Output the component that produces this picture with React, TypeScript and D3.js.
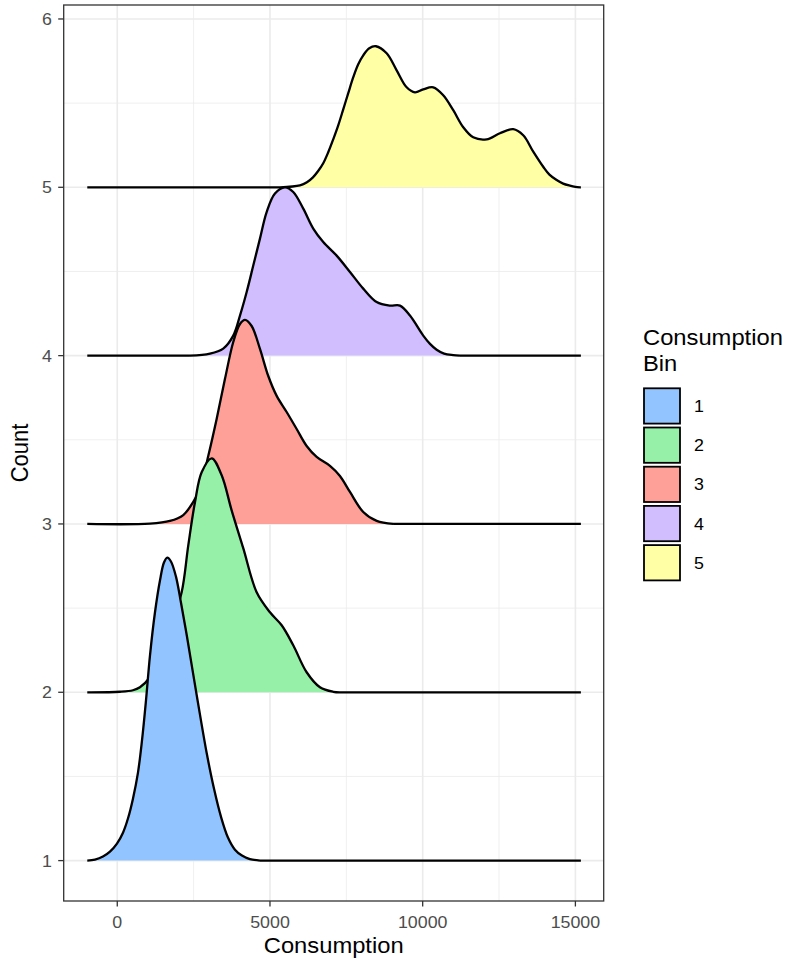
import React from "react";
import * as d3 from "d3";

// ---------- data ----------
const categories = ["1", "2", "3", "4", "5"];
const fillColors = ["#92C5FF", "#97F0A8", "#FFA098", "#D0BEFF", "#FFFFA6"];
const yTicks = [1, 2, 3, 4, 5, 6];
const yMinorTicks = [1.5, 2.5, 3.5, 4.5, 5.5];
const xTicks = [0, 5000, 10000, 15000];
const xMinorTicks = [2500, 7500, 12500];
const consumptionRange = [-982, 15180];
const xLimits = [-1754, 15927];
const yLimits = [0.76, 6.083];

// [consumption, scaled density]
const bin1: [number, number][] = [
  [-730, 0.006], [-468, 0.024], [-239, 0.053], [-10, 0.101], [187, 0.166], [350, 0.25],
  [514, 0.368], [678, 0.523], [809, 0.713], [940, 0.951], [1071, 1.218], [1234, 1.474],
  [1398, 1.664], [1529, 1.771], [1637, 1.8], [1758, 1.777], [1922, 1.687], [2085, 1.533],
  [2282, 1.331], [2478, 1.117], [2708, 0.867], [2937, 0.63], [3166, 0.428], [3395, 0.261],
  [3624, 0.137], [3853, 0.065], [4082, 0.03], [4344, 0.009], [4672, 0],
];
const bin2: [number, number][] = [
  [88, 0.003], [514, 0.012], [743, 0.03], [1071, 0.089], [1398, 0.208], [1725, 0.368],
  [2108, 0.594], [2325, 0.873], [2544, 1.129], [2763, 1.307], [3091, 1.39], [3418, 1.289],
  [3745, 1.081], [4125, 0.856], [4564, 0.594], [5000, 0.475], [5383, 0.398], [5762, 0.279],
  [6201, 0.119], [6636, 0.03], [7072, 0.003], [7291, 0],
];
const bin3: [number, number][] = [
  [1071, 0.002], [1725, 0.018], [2161, 0.053], [2488, 0.131], [2708, 0.208], [2979, 0.404],
  [3254, 0.624], [3527, 0.862], [3798, 1.081], [4018, 1.188], [4182, 1.212], [4400, 1.176],
  [4672, 1.04], [4944, 0.879], [5219, 0.761], [5546, 0.665], [5874, 0.564], [6201, 0.463],
  [6528, 0.398], [6964, 0.345], [7291, 0.285], [7619, 0.19], [8054, 0.071], [8493, 0.018],
  [9036, 0],
];
const bin4: [number, number][] = [
  [2380, 0], [3035, 0.012], [3470, 0.042], [3798, 0.119], [4018, 0.238], [4237, 0.378],
  [4453, 0.535], [4672, 0.695], [4891, 0.853], [5163, 0.963], [5491, 1.0], [5762, 0.972],
  [6090, 0.873], [6417, 0.755], [6744, 0.675], [7183, 0.594], [7619, 0.497], [8054, 0.398],
  [8493, 0.318], [8928, 0.297], [9256, 0.297], [9583, 0.238], [10018, 0.119], [10240, 0.07],
  [10457, 0.035], [10700, 0.012], [11000, 0.003], [11220, 0],
];
const bin5: [number, number][] = [
  [5327, 0], [5981, 0.012], [6210, 0.03], [6407, 0.059], [6571, 0.095], [6744, 0.143],
  [6907, 0.208], [7071, 0.285], [7235, 0.368], [7399, 0.463], [7563, 0.559], [7727, 0.654],
  [7890, 0.731], [8054, 0.784], [8251, 0.826], [8470, 0.838], [8820, 0.796], [9148, 0.695],
  [9475, 0.594], [9747, 0.564], [10018, 0.582], [10346, 0.594], [10673, 0.547], [11001, 0.458],
  [11328, 0.357], [11655, 0.297], [12094, 0.285], [12529, 0.321], [12965, 0.345], [13292, 0.309],
  [13620, 0.212], [13947, 0.122], [14150, 0.075], [14386, 0.043], [14600, 0.022], [14821, 0.01],
  [15000, 0.003], [15149, 0],
];
const densities = [bin1, bin2, bin3, bin4, bin5];

// ---------- layout ----------
const W = 794;
const H = 964;
const panel = { left: 63.7, right: 603.7, top: 5, bottom: 901 };
const SX = 1.08;
const FONT = "'Liberation Sans', Arial, sans-serif";

function T(props: {
  x: number; y: number; size: number; fill?: string; anchor?: string; rotate?: boolean; children: any;
}) {
  const { x, y, size, fill = "#000", anchor = "start", rotate = false, children } = props;
  const tf = rotate
    ? `translate(${x},${y}) rotate(-90) scale(1,${SX})`
    : `translate(${x},${y}) scale(${SX},1)`;
  return (
    <text transform={tf} fontSize={size} fill={fill} textAnchor={anchor} fontFamily={FONT}>
      {children}
    </text>
  );
}

export default function App() {
  const x = d3.scaleLinear().domain(xLimits).range([panel.left, panel.right]);
  const y = d3.scaleLinear().domain(yLimits).range([panel.bottom, panel.top]);

  const ridges = densities.map((pts, i) => {
    const base = i + 1;
    const lo = consumptionRange[0];
    const hi = consumptionRange[1];
    // curved part: from the first zero to the last zero of the series
    const core: [number, number][] = pts[0][1] > 0 ? [[lo, 0], ...pts] : pts.slice();
    const first = core[0];
    const last = core[core.length - 1];
    const curve = d3.curveCatmullRom.alpha(0.5);
    const area = d3
      .area<[number, number]>()
      .x((d) => x(d[0]))
      .y0(y(base))
      .y1((d) => y(base + Math.max(0, d[1])))
      .curve(curve);
    const line = d3
      .line<[number, number]>()
      .x((d) => x(d[0]))
      .y((d) => y(base + d[1]))
      .curve(curve);
    const yb = y(base);
    const leftFlat = first[0] > lo ? `M${x(lo)},${yb}L${x(first[0])},${yb}` : "";
    const rightFlat = last[0] < hi ? `M${x(last[0])},${yb}L${x(hi)},${yb}` : "";
    return {
      key: categories[i],
      color: fillColors[i],
      area: area(core) || "",
      line: leftFlat + (line(core) || "") + rightFlat,
    };
  });

  const gridColor = "#EBEBEB";
  const axisGrey = "#4D4D4D";

  return (
    <svg
      width={W}
      height={H}
      style={{ position: "absolute", left: 0, top: 0, background: "#fff" }}
    >
      <rect x={0} y={0} width={W} height={H} fill="#fff" />
      {/* minor grid */}
      {xMinorTicks.map((t) => (
        <line key={"xm" + t} x1={x(t)} x2={x(t)} y1={panel.top} y2={panel.bottom} stroke={gridColor} strokeWidth={0.8} />
      ))}
      {yMinorTicks.map((t) => (
        <line key={"ym" + t} x1={panel.left} x2={panel.right} y1={y(t)} y2={y(t)} stroke={gridColor} strokeWidth={0.8} />
      ))}
      {/* major grid */}
      {xTicks.map((t) => (
        <line key={"xM" + t} x1={x(t)} x2={x(t)} y1={panel.top} y2={panel.bottom} stroke={gridColor} strokeWidth={1.6} />
      ))}
      {yTicks.map((t) => (
        <line key={"yM" + t} x1={panel.left} x2={panel.right} y1={y(t)} y2={y(t)} stroke={gridColor} strokeWidth={1.6} />
      ))}

      {/* ridges, top first so lower ridges sit in front */}
      {ridges
        .slice()
        .reverse()
        .map((r) => (
          <g key={r.key}>
            <path d={r.area} fill={r.color} stroke="none" />
            <path d={r.line} fill="none" stroke="#000" strokeWidth={2.3} strokeLinejoin="round" strokeLinecap="butt" />
          </g>
        ))}

      {/* panel border */}
      <rect
        x={panel.left}
        y={panel.top}
        width={panel.right - panel.left}
        height={panel.bottom - panel.top}
        fill="none"
        stroke="#333333"
        strokeWidth={1.3}
      />

      {/* y axis */}
      {yTicks.map((t) => (
        <g key={"yt" + t}>
          <line x1={panel.left - 5.5} x2={panel.left} y1={y(t)} y2={y(t)} stroke="#333333" strokeWidth={1.3} />
          <T x={52} y={y(t) + 6} size={16.5} fill={axisGrey} anchor="end">
            {t}
          </T>
        </g>
      ))}
      {/* x axis */}
      {xTicks.map((t) => (
        <g key={"xt" + t}>
          <line x1={x(t)} x2={x(t)} y1={panel.bottom} y2={panel.bottom + 5.5} stroke="#333333" strokeWidth={1.3} />
          <T x={x(t)} y={927.5} size={16.5} fill={axisGrey} anchor="middle">
            {t}
          </T>
        </g>
      ))}

      {/* axis titles */}
      <T x={(panel.left + panel.right) / 2} y={953} size={22} anchor="middle">
        Consumption
      </T>
      <T x={28} y={(panel.top + panel.bottom) / 2} size={22} anchor="middle" rotate>
        Count
      </T>

      {/* legend */}
      <T x={643} y={345} size={22}>
        Consumption
      </T>
      <T x={643} y={371} size={22}>
        Bin
      </T>
      {categories.map((c, i) => {
        const ky = 388.3 + i * 39.2;
        return (
          <g key={"lg" + c}>
            <rect x={644} y={ky} width={36} height={35.3} fill={fillColors[i]} stroke="#000" strokeWidth={1.8} />
            <T x={694} y={ky + 17.6 + 6} size={16.5}>
              {c}
            </T>
          </g>
        );
      })}
    </svg>
  );
}
